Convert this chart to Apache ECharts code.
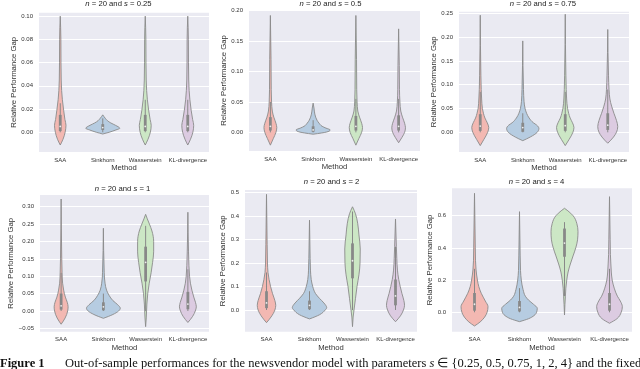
<!DOCTYPE html>
<html><head><meta charset="utf-8">
<script src="https://cdn.jsdelivr.net/npm/echarts@6/dist/echarts.min.js"></script>
<style>html,body{margin:0;padding:0;background:#fff}#c{width:640px;height:369px}</style>
</head><body><div id="c"></div>
<script>
// ---------------- data ----------------
const methods = ['SAA', 'Sinkhorn', 'Wasserstein', 'KL-divergence'];
const sValues = ['0.25', '0.5', '0.75', '1', '2', '4'];

const yTickValues = [
  [0, 0.02, 0.04, 0.06, 0.08, 0.10],
  [0, 0.05, 0.10, 0.15, 0.20],
  [0, 0.05, 0.10, 0.15, 0.20, 0.25],
  [-0.05, 0, 0.05, 0.10, 0.15, 0.20, 0.25, 0.30],
  [0, 0.1, 0.2, 0.3, 0.4, 0.5],
  [0, 0.2, 0.4, 0.6]
];
const yTickLabels = [
  ['0.00', '0.02', '0.04', '0.06', '0.08', '0.10'],
  ['0.00', '0.05', '0.10', '0.15', '0.20'],
  ['0.00', '0.05', '0.10', '0.15', '0.20', '0.25'],
  ['\u22120.05', '0.00', '0.05', '0.10', '0.15', '0.20', '0.25', '0.30'],
  ['0.0', '0.1', '0.2', '0.3', '0.4', '0.5'],
  ['0.0', '0.2', '0.4', '0.6']
];

// violin outlines: [value, relative width] from bottom tip to top tip
const shapeP1 = [
  [[-0.011,0],[-0.006,0.13],[0,0.23],[0.006,0.27],[0.011,0.22],[0.019,0.16],[0.028,0.1],[0.036,0.065],[0.045,0.045],[0.06,0.035],[0.08,0.03],[0.1,0]],
  [[-0.0015,0],[0,0.3],[0.002,0.62],[0.0034,0.8],[0.006,0.6],[0.008,0.38],[0.01,0.22],[0.012,0.12],[0.015,0]],
  [[-0.011,0],[-0.006,0.13],[0,0.24],[0.006,0.28],[0.011,0.23],[0.019,0.16],[0.028,0.1],[0.036,0.065],[0.045,0.045],[0.06,0.035],[0.08,0.03],[0.1,0]],
  [[-0.011,0],[-0.006,0.13],[0,0.24],[0.006,0.28],[0.011,0.23],[0.019,0.16],[0.028,0.1],[0.036,0.065],[0.045,0.045],[0.06,0.035],[0.08,0.03],[0.1,0]]
];
const shapeP2 = [
  [[-0.021,0],[-0.01,0.14],[0,0.26],[0.008,0.3],[0.015,0.26],[0.025,0.16],[0.035,0.09],[0.05,0.055],[0.07,0.04],[0.12,0.03],[0.192,0]],
  [[-0.003,0],[-0.001,0.4],[0.002,0.75],[0.004,0.8],[0.007,0.6],[0.01,0.42],[0.015,0.28],[0.02,0.18],[0.03,0.08],[0.04,0.04],[0.048,0]],
  [[-0.021,0],[-0.01,0.14],[0,0.27],[0.008,0.31],[0.015,0.27],[0.025,0.17],[0.035,0.09],[0.05,0.055],[0.07,0.04],[0.12,0.03],[0.192,0]],
  [[-0.017,0],[-0.008,0.16],[0,0.28],[0.0075,0.32],[0.015,0.28],[0.025,0.18],[0.035,0.1],[0.05,0.06],[0.07,0.04],[0.11,0.03],[0.17,0]]
];
const shapeP3 = [
  [[-0.028,0],[-0.015,0.17],[0,0.35],[0.01,0.4],[0.02,0.33],[0.03,0.22],[0.04,0.15],[0.05,0.1],[0.07,0.065],[0.09,0.045],[0.12,0.03],[0.246,0]],
  [[-0.0176,0],[-0.01,0.35],[0,0.68],[0.008,0.76],[0.015,0.66],[0.02,0.5],[0.03,0.3],[0.04,0.18],[0.05,0.11],[0.065,0.06],[0.09,0.035],[0.192,0]],
  [[-0.028,0],[-0.015,0.18],[0,0.36],[0.01,0.41],[0.02,0.34],[0.03,0.23],[0.04,0.16],[0.05,0.11],[0.07,0.065],[0.09,0.045],[0.12,0.03],[0.248,0]],
  [[-0.023,0],[-0.01,0.27],[0,0.41],[0.012,0.47],[0.025,0.41],[0.04,0.29],[0.055,0.18],[0.07,0.1],[0.09,0.06],[0.12,0.035],[0.216,0]]
];
const shapeP4 = [
  [[-0.038,0],[-0.02,0.19],[0,0.31],[0.012,0.33],[0.025,0.29],[0.04,0.2],[0.06,0.12],[0.08,0.07],[0.11,0.045],[0.15,0.03],[0.322,0]],
  [[-0.021,0],[-0.01,0.45],[0,0.72],[0.008,0.8],[0.018,0.68],[0.03,0.45],[0.045,0.27],[0.06,0.15],[0.08,0.08],[0.11,0.04],[0.238,0]],
  [[-0.045,0],[-0.02,0.03],[0.02,0.06],[0.05,0.1],[0.08,0.17],[0.11,0.26],[0.14,0.33],[0.17,0.38],[0.2,0.38],[0.23,0.3],[0.25,0.18],[0.265,0.08],[0.278,0]],
  [[-0.033,0],[-0.015,0.23],[0,0.35],[0.012,0.4],[0.025,0.36],[0.04,0.28],[0.06,0.19],[0.08,0.12],[0.1,0.08],[0.13,0.05],[0.17,0.03],[0.284,0]]
];
const shapeP5 = [
  [[-0.054,0],[-0.03,0.21],[0,0.39],[0.02,0.43],[0.04,0.39],[0.07,0.28],[0.1,0.19],[0.13,0.12],[0.16,0.07],[0.2,0.045],[0.28,0.03],[0.493,0]],
  [[-0.038,0],[-0.02,0.47],[0,0.73],[0.01,0.8],[0.03,0.67],[0.05,0.46],[0.07,0.28],[0.1,0.15],[0.13,0.08],[0.17,0.045],[0.22,0.03],[0.383,0]],
  [[-0.071,0],[-0.03,0.03],[0,0.07],[0.05,0.14],[0.1,0.21],[0.15,0.3],[0.2,0.35],[0.26,0.36],[0.32,0.3],[0.37,0.24],[0.41,0.14],[0.44,0]],
  [[-0.05,0],[-0.025,0.23],[0,0.37],[0.02,0.42],[0.04,0.39],[0.07,0.3],[0.1,0.22],[0.13,0.15],[0.17,0.09],[0.22,0.06],[0.27,0.04],[0.388,0]]
];
const shapeP6 = [
  [[-0.085,0],[-0.06,0.25],[-0.03,0.45],[0,0.56],[0.035,0.6],[0.07,0.48],[0.118,0.3],[0.16,0.19],[0.2,0.13],[0.263,0.07],[0.32,0.045],[0.4,0.035],[0.739,0]],
  [[-0.058,0],[-0.04,0.4],[-0.02,0.65],[0,0.76],[0.025,0.79],[0.05,0.62],[0.076,0.4],[0.1,0.26],[0.14,0.16],[0.2,0.08],[0.26,0.045],[0.35,0.03],[0.625,0]],
  [[-0.017,0],[0.05,0.02],[0.1,0.04],[0.15,0.06],[0.2,0.1],[0.25,0.16],[0.3,0.26],[0.35,0.38],[0.4,0.5],[0.45,0.58],[0.5,0.6],[0.55,0.55],[0.6,0.38],[0.63,0.15],[0.646,0]],
  [[-0.068,0],[-0.04,0.33],[0,0.52],[0.035,0.57],[0.07,0.48],[0.1,0.35],[0.15,0.21],[0.2,0.12],[0.25,0.08],[0.3,0.06],[0.36,0.04],[0.45,0.03],[0.718,0]]
];

// inner boxes: [whisker low, q1, median, q3, whisker high]
const boxP1 = [[0,0.001,0.005,0.015,0.025],[0,0.002,0.004,0.007,0.012],[0,0.001,0.005,0.015,0.028],[0,0.001,0.005,0.015,0.028]];
const boxP2 = [[0,0.003,0.01,0.025,0.05],[0,0.001,0.004,0.01,0.02],[0,0.003,0.01,0.027,0.055],[0,0.003,0.01,0.028,0.055]];
const boxP3 = [[0,0.003,0.013,0.038,0.085],[0,0.001,0.01,0.02,0.04],[0,0.003,0.014,0.038,0.085],[0,0.005,0.015,0.04,0.09]];
const boxP4 = [[0,0.004,0.015,0.05,0.11],[0,0.002,0.012,0.025,0.05],[0.0,0.085,0.14,0.185,0.245],[0,0.005,0.02,0.055,0.12]];
const boxP5 = [[0,0.008,0.03,0.08,0.16],[0,0.003,0.02,0.04,0.08],[0,0.135,0.21,0.284,0.42],[0,0.02,0.06,0.13,0.27]];
const boxP6 = [[0,0.01,0.05,0.12,0.27],[0,0.005,0.03,0.07,0.15],[0.1,0.345,0.43,0.52,0.56],[0,0.01,0.05,0.12,0.27]];

const shapes = [shapeP1, shapeP2, shapeP3, shapeP4, shapeP5, shapeP6];
const boxes = [boxP1, boxP2, boxP3, boxP4, boxP5, boxP6];

// ---------------- layout / style ----------------
const colors = ['#f3b8b2', '#b6cce1', '#cce7c5', '#dccbe1'];
const grids = [
  {left: 39, top: 12.7, width: 170, height: 139.3},
  {left: 249, top: 10, width: 171, height: 141},
  {left: 459, top: 11.7, width: 170, height: 140.3},
  {left: 40, top: 195, width: 169, height: 136.7},
  {left: 245, top: 190, width: 172, height: 141.7},
  {left: 452, top: 188.3, width: 180, height: 143.4}
];
const yRanges = [[-0.017, 0.103], [-0.0306, 0.201], [-0.0414, 0.2534], [-0.0595, 0.3336], [-0.0925, 0.5115], [-0.1205, 0.770]];
const yNameGaps = [20, 20, 20, 22, 18, 16];
const titlePos = [[118.5, 4], [330.5, 4], [543, 4], [122.5, 188.5], [331.5, 181.5], [536.5, 181.5]];
const FONT = '"Liberation Sans", Arial, sans-serif';

// monotone cubic (x as a function of y) outline of one violin, as SVG path data
function violinPath(cx, ts, ds) {
  const n = ts.length, h = [], s = [], m = new Array(n).fill(0);
  for (let k = 0; k < n - 1; k++) { h[k] = ts[k + 1] - ts[k]; s[k] = h[k] ? (ds[k + 1] - ds[k]) / h[k] : 0; }
  for (let k = 1; k < n - 1; k++) {
    const p = (s[k - 1] * h[k] + s[k] * h[k - 1]) / (h[k - 1] + h[k]);
    m[k] = (Math.sign(s[k - 1]) + Math.sign(s[k])) * Math.min(Math.abs(s[k - 1]), Math.abs(s[k]), 0.5 * Math.abs(p)) || 0;
  }
  m[0] = (3 * s[0] - m[1]) / 2; if (Math.sign(m[0]) !== Math.sign(s[0])) m[0] = 0;
  m[n - 1] = (3 * s[n - 2] - m[n - 2]) / 2; if (Math.sign(m[n - 1]) !== Math.sign(s[n - 2])) m[n - 1] = 0;
  const f = (v) => v.toFixed(2);
  let d = 'M' + f(cx + ds[0]) + ' ' + f(ts[0]);
  for (let k = 0; k < n - 1; k++) {
    d += ' C' + f(cx + ds[k] + m[k] * h[k] / 3) + ' ' + f(ts[k] + h[k] / 3) + ' '
       + f(cx + ds[k + 1] - m[k + 1] * h[k] / 3) + ' ' + f(ts[k + 1] - h[k] / 3) + ' '
       + f(cx + ds[k + 1]) + ' ' + f(ts[k + 1]);
  }
  for (let k = n - 2; k >= 0; k--) {
    d += ' C' + f(cx - (ds[k + 1] - m[k + 1] * h[k] / 3)) + ' ' + f(ts[k + 1] - h[k] / 3) + ' '
       + f(cx - (ds[k] + m[k] * h[k] / 3)) + ' ' + f(ts[k] + h[k] / 3) + ' '
       + f(cx - ds[k]) + ' ' + f(ts[k]);
  }
  return d + ' Z';
}

const xAxes = [], yAxes = [], series = [], graphics = [];
grids.forEach((g, p) => {
  g.show = true; g.backgroundColor = '#eaeaf2'; g.borderWidth = 0;
  xAxes.push({
    type: 'category', gridIndex: p, data: methods,
    axisLine: {show: false}, axisTick: {show: false},
    axisLabel: {fontSize: 6, color: '#333', fontFamily: FONT, margin: 5, interval: 0},
    name: 'Method', nameLocation: 'middle', nameGap: 12,
    nameTextStyle: {fontSize: 7.7, color: '#333', fontFamily: FONT},
    splitLine: {show: false}
  });
  yAxes.push({
    type: 'value', gridIndex: p, min: yRanges[p][0], max: yRanges[p][1],
    axisLine: {show: false},
    axisTick: {show: false, customValues: yTickValues[p]},
    axisLabel: {
      customValues: yTickValues[p], fontSize: 6, color: '#333', fontFamily: FONT, margin: 6,
      formatter: (v) => {
        const k = yTickValues[p].findIndex(t => Math.abs(t - v) < 1e-9);
        return k >= 0 ? yTickLabels[p][k] : '';
      }
    },
    splitLine: {show: true, lineStyle: {color: '#ffffff', width: 1}},
    name: 'Relative Performance Gap', nameLocation: 'middle', nameGap: yNameGaps[p],
    nameTextStyle: {fontSize: 7.7, color: '#333', fontFamily: FONT}
  });
  series.push({
    type: 'custom', xAxisIndex: p, yAxisIndex: p,
    data: methods.map((m, i) => [i]),
    clip: false,
    renderItem: function (params, api) {
      const i = params.dataIndex;
      const knots = shapes[p][i];
      const box = boxes[p][i];
      const band = api.size([1, 0])[0];
      const cx = api.coord([i, 0])[0];
      const ts = knots.map(([v]) => api.coord([i, v])[1]);
      const ds = knots.map(([, w]) => w * band / 2);
      const yw0 = api.coord([i, box[0]])[1], yq1 = api.coord([i, box[1]])[1];
      const ymd = api.coord([i, box[2]])[1], yq3 = api.coord([i, box[3]])[1];
      const yw1 = api.coord([i, box[4]])[1];
      return {
        type: 'group',
        children: [
          {type: 'path', shape: {pathData: violinPath(cx, ts, ds)},
           style: {fill: colors[i], stroke: '#8a8a8a', lineWidth: 0.9}},
          {type: 'line', shape: {x1: cx, y1: yw0, x2: cx, y2: yw1},
           style: {stroke: '#888888', lineWidth: 1}},
          {type: 'rect', shape: {x: cx - 1.4, y: yq3, width: 2.8, height: yq1 - yq3},
           style: {fill: '#888888'}},
          {type: 'circle', shape: {cx: cx, cy: ymd, r: 0.9},
           style: {fill: '#eeeeee'}}
        ]
      };
    }
  });
  graphics.push({
    type: 'text', x: titlePos[p][0], y: titlePos[p][1],
    style: {
      text: '{i|n} = 20 and {i|s} = ' + sValues[p],
      align: 'center', verticalAlign: 'middle',
      fontSize: 7.7, fill: '#222', fontFamily: FONT,
      rich: {i: {fontStyle: 'italic', fontSize: 7.7, fontFamily: FONT, fill: '#222'}}
    }
  });
});

graphics.push({
  type: 'text', x: 0, y: 363.5,
  style: {text: 'Figure 1', fontSize: 12.5, fontWeight: 'bold', fontFamily: '"Liberation Serif", serif', fill: '#111', verticalAlign: 'middle'}
});
graphics.push({
  type: 'text', x: 65, y: 363.5,
  style: {
    text: 'Out-of-sample performances for the newsvendor model with parameters {i|s} \u2208 {0.25, 0.5, 0.75, 1, 2, 4} and the fixed',
    fontSize: 12.5, fontFamily: '"Liberation Serif", serif', fill: '#111', verticalAlign: 'middle',
    rich: {i: {fontStyle: 'italic', fontSize: 12.5, fontFamily: '"Liberation Serif", serif', fill: '#111'}}
  }
});

const chart = echarts.init(document.getElementById('c'), null, {renderer: 'canvas'});
chart.setOption({
  animation: false,
  backgroundColor: '#ffffff',
  grid: grids, xAxis: xAxes, yAxis: yAxes, series: series, graphic: graphics
});
</script>
</body></html>
